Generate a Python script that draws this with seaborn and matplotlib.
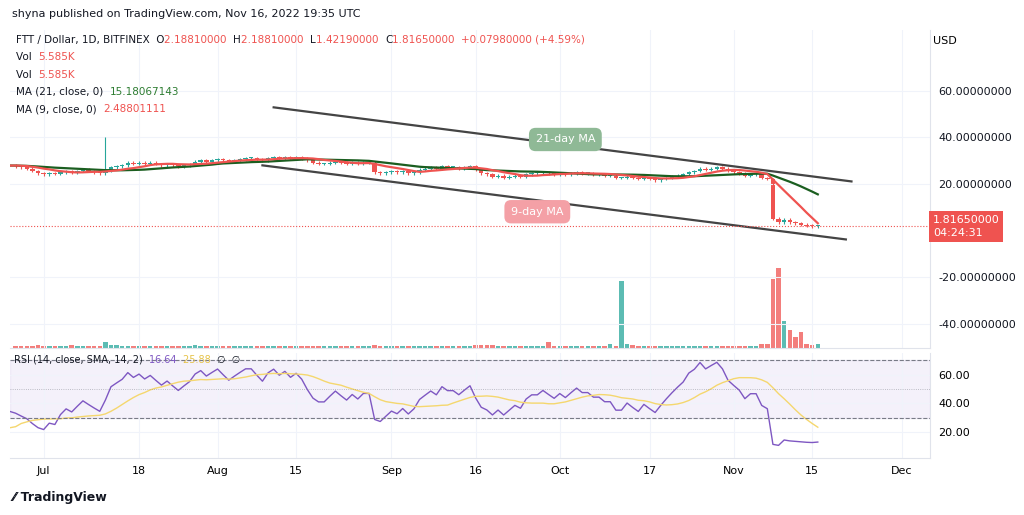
import numpy as np, pandas as pd, matplotlib
matplotlib.use("Agg")
import matplotlib.pyplot as plt, matplotlib.dates as mdates
import seaborn as sns

start = "2022-06-12"
pre_closes = [28,27.5,28.5,27.5,28,27,28,27.5,28.5,27.5,28,27.5,28.2,27.8]
closes = [27.5,27,26.5,25.5,24.5,24,24.5,
 24.2,25,25.5,25,25.5,26,25.5,
 25,24.5,25.5,27,27.5,28,29,
 28.5,29,28.5,29,28.5,28,28.5,
 28,27.5,28,28.5,29.5,30,29.5,
 30,30.5,30,29.5,30,30.5,31,
 31,30.5,30,31,31.5,31,31.5,
 31,31.5,31,30,29,28.5,28.5,
 29,29.5,29,28.5,29,28.5,29,
 29,25,24.5,25,25.5,25,25.5,
 24.5,25,26,26.5,27,26.5,27.5,
 27,27,26.5,27,27.5,26,24.5,
 24,23,23.5,22.5,23,23.5,23,
 24,24.5,24.5,25,24.5,24,24.5,
 24,24.5,25,24.5,24.5,24,24,
 23.5,23.5,22.5,22.5,23,22.5,22,
 22.5,22,21.5,22,22.5,23,23.5,
 24,25,25.5,26.5,26,26.5,27,
 26.5,25.5,25,24.5,23.5,24,24,
 22.5,22,5,3.5,4.5,3.5,3.0,
 2.4,2.0,1.75,1.8165]
volumes = [1,1,1,1,1.2,1,1,
 1,1,1,1.2,1,1,1,
 1,1,2.5,1.5,1.2,1,1,
 1,1,1,1,1,1,1,
 1,1,1,1,1.2,1,1,
 1,1,1,1,1,1,1,
 1,1,1,1,1,1,1,
 1,1,1,1,1,1,1,
 1,1,1,1,1,1,1,
 1,1.5,1,1,1,1,1,
 1,1,1,1,1,1,1,
 1,1,1,1,1,1.2,1.5,
 1.2,1.2,1,1,1,1,1,
 1,1,1,1,2.5,1,1,
 1,1,1,1,1,1,1,
 1,2,1,30,2,1.2,1,
 1,1,1,1,1,1,1,
 1,1,1,1,1,1,1,
 1,1,1,1,1,1,1,
 2,2,31,36,12,8,5,
 7,2,1.5,1.8]
upper_ch = [("2022-08-11", 52.8), ("2022-11-22", 21.0)]
lower_ch = [("2022-08-09", 27.9), ("2022-11-21", -3.9)]

allc = pre_closes + closes
dates = pd.date_range(start, periods=len(allc))
df = pd.DataFrame({"date": dates, "close": allc, "vol": [0]*len(pre_closes) + volumes})
df["open"] = df["close"].shift(1).fillna(df["close"].iloc[0])
df["ma21"] = df["close"].rolling(21, min_periods=1).mean()
df["ma9"] = df["close"].rolling(9, min_periods=1).mean()
d = df["close"].diff()
up = d.clip(lower=0).ewm(alpha=1/14, adjust=False).mean()
dn = (-d.clip(upper=0)).ewm(alpha=1/14, adjust=False).mean()
df["rsi"] = 100 - 100/(1+up/dn)
df["rsi_sma"] = df["rsi"].rolling(14, min_periods=1).mean()
vis = df.iloc[len(pre_closes):].copy()
plotdf = df[df.date >= pd.Timestamp("2022-06-24")]

G, R = "#26a69a", "#ef5350"
fig = plt.figure(figsize=(10.24, 5.15), dpi=100)
ax = fig.add_axes([10/1024, 1-348/515, 920/1024, 318/515])
axr = fig.add_axes([10/1024, 1-458/515, 920/1024, 105/515], sharex=ax)
axv = ax.twinx()
xmin, xmax = pd.Timestamp("2022-06-25"), pd.Timestamp("2022-12-06")
ax.set_xlim(xmin, xmax)
ax.set_ylim(-50.5, 86)
axv.set_ylim(0, 36*318/80)
axv.set_axis_off()
ax.set_zorder(axv.get_zorder()+1); ax.patch.set_visible(False)

for _, r in vis.iterrows():
    c = G if r.close >= r.open else R
    lo, hi = min(r.open, r.close), max(r.open, r.close)
    ax.vlines(r.date, lo-0.6, hi+0.6, color=c, lw=0.8)
    ax.bar(r.date, max(hi-lo, 0.5), bottom=lo, width=0.8, color=c)
    axv.bar(r.date, r.vol, width=0.8, color=c, alpha=0.75)
ax.vlines(pd.Timestamp("2022-07-12"), 26, 40, color=G, lw=0.8)
sns.lineplot(x=plotdf.date, y=plotdf.ma21, ax=ax, color="#1b5e20", lw=1.6)
sns.lineplot(x=plotdf.date, y=plotdf.ma9, ax=ax, color=R, lw=1.6)
for ch in (upper_ch, lower_ch):
    ax.plot([pd.Timestamp(ch[0][0]), pd.Timestamp(ch[1][0])], [ch[0][1], ch[1][1]], color="#444444", lw=1.6)
ax.axhline(closes[-1], color=R, ls=":", lw=0.8)
ax.text(pd.Timestamp("2022-10-02"), 39, "21-day MA", ha="center", va="center", color="white", fontsize=8,
        bbox=dict(boxstyle="round,pad=0.6", fc="#8fb996", ec="none"))
ax.text(pd.Timestamp("2022-09-27"), 8, "9-day MA", ha="center", va="center", color="white", fontsize=8,
        bbox=dict(boxstyle="round,pad=0.6", fc="#f4a0a6", ec="none"))
ax.set_yticks([-40, -20, 20, 40, 60])
ax.yaxis.tick_right()
ax.yaxis.set_major_formatter(matplotlib.ticker.FormatStrFormatter("%.8f"))
ax.tick_params(axis="y", length=0, labelsize=8, colors="#131722", pad=6)
ax.text(1.003, 0.98, "USD", transform=ax.transAxes, fontsize=8, va="top")
ax.text(1.003, (closes[-1]+50.5)/136.5, f"{closes[-1]:.8f}\n04:24:31", transform=ax.transAxes, fontsize=8,
        va="center", color="white", linespacing=1.4, bbox=dict(boxstyle="square,pad=0.35", fc=R, ec="none"))

sns.lineplot(x=plotdf.date, y=plotdf.rsi, ax=axr, color="#7e57c2", lw=1)
sns.lineplot(x=plotdf.date, y=plotdf.rsi_sma, ax=axr, color="#f5d76e", lw=1)
axr.axhspan(30, 70, color="#7e57c2", alpha=0.08)
for v in (30, 70): axr.axhline(v, color="#787b86", ls="--", lw=0.8)
axr.axhline(50, color="#787b86", ls=":", lw=0.6, alpha=0.6)
axr.set_ylim(2, 75)
axr.set_yticks([20, 40, 60]); axr.yaxis.tick_right()
axr.yaxis.set_major_formatter(matplotlib.ticker.FormatStrFormatter("%.2f"))
axr.tick_params(axis="y", length=0, labelsize=8, pad=6)

ticks = pd.to_datetime(["2022-07-01","2022-07-18","2022-08-01","2022-08-15","2022-09-01","2022-09-16",
                        "2022-10-01","2022-10-17","2022-11-01","2022-11-15","2022-12-01"])
labels = ["Jul","18","Aug","15","Sep","16","Oct","17","Nov","15","Dec"]
axr.set_xticks(ticks); axr.set_xticklabels(labels)
axr.tick_params(axis="x", length=0, labelsize=8, pad=6)
plt.setp(ax.get_xticklabels(), visible=False)
ax.tick_params(axis="x", length=0)
for a in (ax, axr):
    a.set_xlabel(""); a.set_ylabel("")
    a.grid(color="#f0f3fa", lw=0.8)
    for s in a.spines.values(): s.set_color("#e0e3eb")
    a.spines["left"].set_visible(False); a.spines["top"].set_visible(False)

rend = fig.canvas.get_renderer()
def seq(x, y, parts, fs=7.5):
    for t, c in parts:
        tt = fig.text(x/1024, 1-y/515, t, fontsize=fs, va="center", color=c)
        x += tt.get_window_extent(rend).width
fig.text(12/1024, 1-14/515, "shyna published on TradingView.com, Nov 16, 2022 19:35 UTC", fontsize=8, va="center", color="#131722")
K = "#131722"
seq(16, 40, [("FTT / Dollar, 1D, BITFINEX  O", K), ("2.18810000  ", R), ("H", K), ("2.18810000  ", R),
             ("L", K), ("1.42190000  ", R), ("C", K), ("1.81650000  +0.07980000 (+4.59%)", R)])
rows = [("Vol  ", "5.585K", R), ("Vol  ", "5.585K", R), ("MA (21, close, 0)  ", "15.18067143", "#2e7d32"), ("MA (9, close, 0)  ", "2.48801111", R)]
for i, (a, b, c) in enumerate(rows):
    seq(16, 57+17.5*i, [(a, K), (b, c)])
seq(14, 360, [("RSI (14, close, SMA, 14, 2)  ", K), ("16.64  ", "#7e57c2"), ("25.88  ", "#e6c34a"), ("∅  ∅", K)], fs=7)
fig.text(12/1024, 1-497/515, "⁄⁄ TradingView", fontsize=9, va="center", color="#131722", fontweight="bold")
fig.savefig("out.png", dpi=100, facecolor="white")
